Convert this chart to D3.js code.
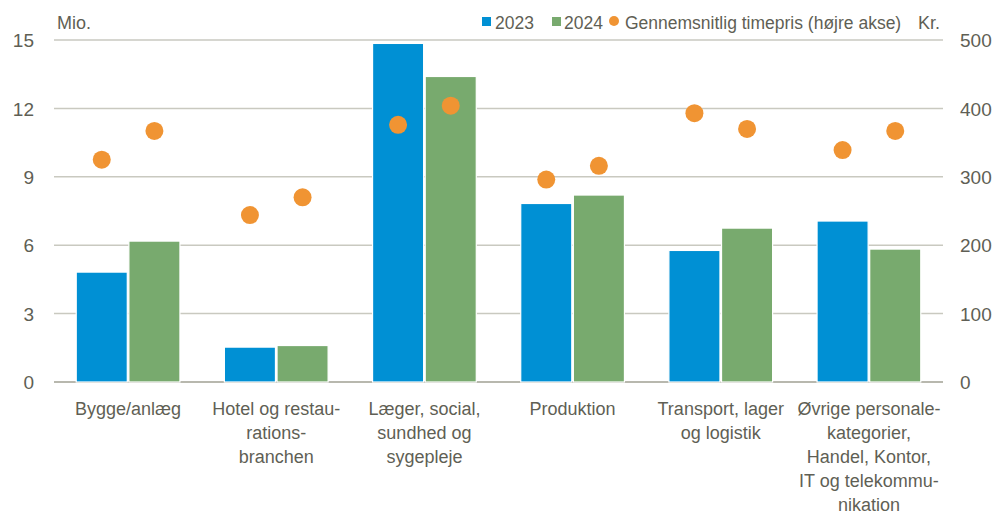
<!DOCTYPE html>
<html>
<head>
<meta charset="utf-8">
<script src="https://cdn.jsdelivr.net/npm/d3@7"></script>
<style>
  body { margin: 0; background: #fff; }
  svg text { font-family: "Liberation Sans Narrow", "Arial Narrow", "Liberation Sans", Arial, sans-serif; fill: #5f5f55; }
</style>
</head>
<body>
<svg id="chart" width="1003" height="515"></svg>
<script>
const WIDTH = 1003;
const HEIGHT = 515;

const categories = [
  ['Bygge/anlæg'],
  ['Hotel og restau-', 'rations-', 'branchen'],
  ['Læger, social,', 'sundhed og', 'sygepleje'],
  ['Produktion'],
  ['Transport, lager', 'og logistik'],
  ['Øvrige personale-', 'kategorier,', 'Handel, Kontor,', 'IT og telekommu-', 'nikation']
];
const series = ['2023', '2024'];
const values2023 = [4.82, 1.53, 14.85, 7.83, 5.77, 7.06];
const values2024 = [6.18, 1.60, 13.40, 8.20, 6.75, 5.83];
const price2023 = [325, 244, 376, 296, 393, 339];
const price2024 = [367, 270, 404, 316, 370, 367];
const leftTicks = [0, 3, 6, 9, 12, 15];
const rightTicks = [0, 100, 200, 300, 400, 500];

const colors = { '2023': '#0090d4', '2024': '#78aa6e', dot: '#f09433' };

const margin = { top: 40, right: 60, bottom: 133, left: 54 };
const plotRight = WIDTH - margin.right;
const plotBottom = HEIGHT - margin.bottom;

const svg = d3.select('#chart');

const x0 = d3.scaleBand()
  .domain(d3.range(categories.length))
  .range([margin.left, plotRight])
  .paddingInner(0.3)
  .paddingOuter(0.15);

const x1 = d3.scaleBand()
  .domain(series)
  .range([0, x0.bandwidth()])
  .paddingInner(0.03);

const yLeft = d3.scaleLinear().domain([0, 15]).range([plotBottom, margin.top]);
const yRight = d3.scaleLinear().domain([0, 500]).range([plotBottom, margin.top]);

// gridlines
svg.append('g')
  .selectAll('line')
  .data(leftTicks)
  .join('line')
  .attr('x1', margin.left)
  .attr('x2', plotRight)
  .attr('y1', d => yLeft(d))
  .attr('y2', d => yLeft(d))
  .attr('stroke', d => d === 0 ? '#b8b8ae' : '#c9c9c0')
  .attr('stroke-width', d => d === 0 ? 2 : 1.5);

// bars
const barData = categories.flatMap((c, i) => [
  { i, key: '2023', value: values2023[i] },
  { i, key: '2024', value: values2024[i] }
]);

svg.append('g')
  .selectAll('rect')
  .data(barData)
  .join('rect')
  .attr('x', d => x0(d.i) + x1(d.key))
  .attr('y', d => yLeft(d.value))
  .attr('width', x1.bandwidth())
  .attr('height', d => yLeft(0) - yLeft(d.value))
  .attr('fill', d => colors[d.key])
  .attr('stroke', '#fff')
  .attr('stroke-width', 1.2);

// dots
const dotData = categories.flatMap((c, i) => [
  { i, key: '2023', value: price2023[i] },
  { i, key: '2024', value: price2024[i] }
]);

svg.append('g')
  .selectAll('circle')
  .data(dotData)
  .join('circle')
  .attr('cx', d => x0(d.i) + x1(d.key) + x1.bandwidth() / 2)
  .attr('cy', d => yRight(d.value))
  .attr('r', 9)
  .attr('fill', colors.dot);

// left axis
const leftAxis = svg.append('g')
  .attr('transform', `translate(${margin.left},0)`)
  .call(d3.axisLeft(yLeft).tickValues(leftTicks).tickSize(0).tickPadding(20));
leftAxis.select('.domain').remove();
leftAxis.selectAll('text')
  .attr('font-size', 19)
  .attr('dy', '0.35em')
  .style('fill', '#5f5f55');

// right axis
const rightAxis = svg.append('g')
  .attr('transform', `translate(${plotRight},0)`)
  .call(d3.axisRight(yRight).tickValues(rightTicks).tickSize(0).tickPadding(17));
rightAxis.select('.domain').remove();
rightAxis.selectAll('text')
  .attr('font-size', 19)
  .attr('dy', '0.35em')
  .style('fill', '#5f5f55');

// unit labels
svg.append('text').attr('x', 57).attr('y', 29).attr('font-size', 18).text('Mio.');
svg.append('text').attr('x', 918).attr('y', 29).attr('font-size', 18).text('Kr.');

// category labels
const catLabels = svg.append('g')
  .selectAll('text')
  .data(categories)
  .join('text')
  .attr('x', (d, i) => x0(i) + x0.bandwidth() / 2)
  .attr('y', 415)
  .attr('text-anchor', 'middle')
  .attr('font-size', 18);
catLabels.selectAll('tspan')
  .data(d => d)
  .join('tspan')
  .attr('x', function () { return d3.select(this.parentNode).attr('x'); })
  .attr('dy', (d, j) => j === 0 ? 0 : 24)
  .text(d => d);

// legend
const legend = svg.append('g').attr('transform', 'translate(482,29)');
legend.append('rect').attr('x', 0).attr('y', -12).attr('width', 9).attr('height', 9).attr('fill', colors['2023']);
legend.append('text').attr('x', 13).attr('y', 0).attr('font-size', 17.5).text('2023');
legend.append('rect').attr('x', 70).attr('y', -12).attr('width', 9).attr('height', 9).attr('fill', colors['2024']);
legend.append('text').attr('x', 82).attr('y', 0).attr('font-size', 17.5).text('2024');
legend.append('circle').attr('cx', 132).attr('cy', -8).attr('r', 5).attr('fill', colors.dot);
legend.append('text').attr('x', 143).attr('y', 0).attr('font-size', 17.5).text('Gennemsnitlig timepris (højre akse)');
</script>
</body>
</html>
